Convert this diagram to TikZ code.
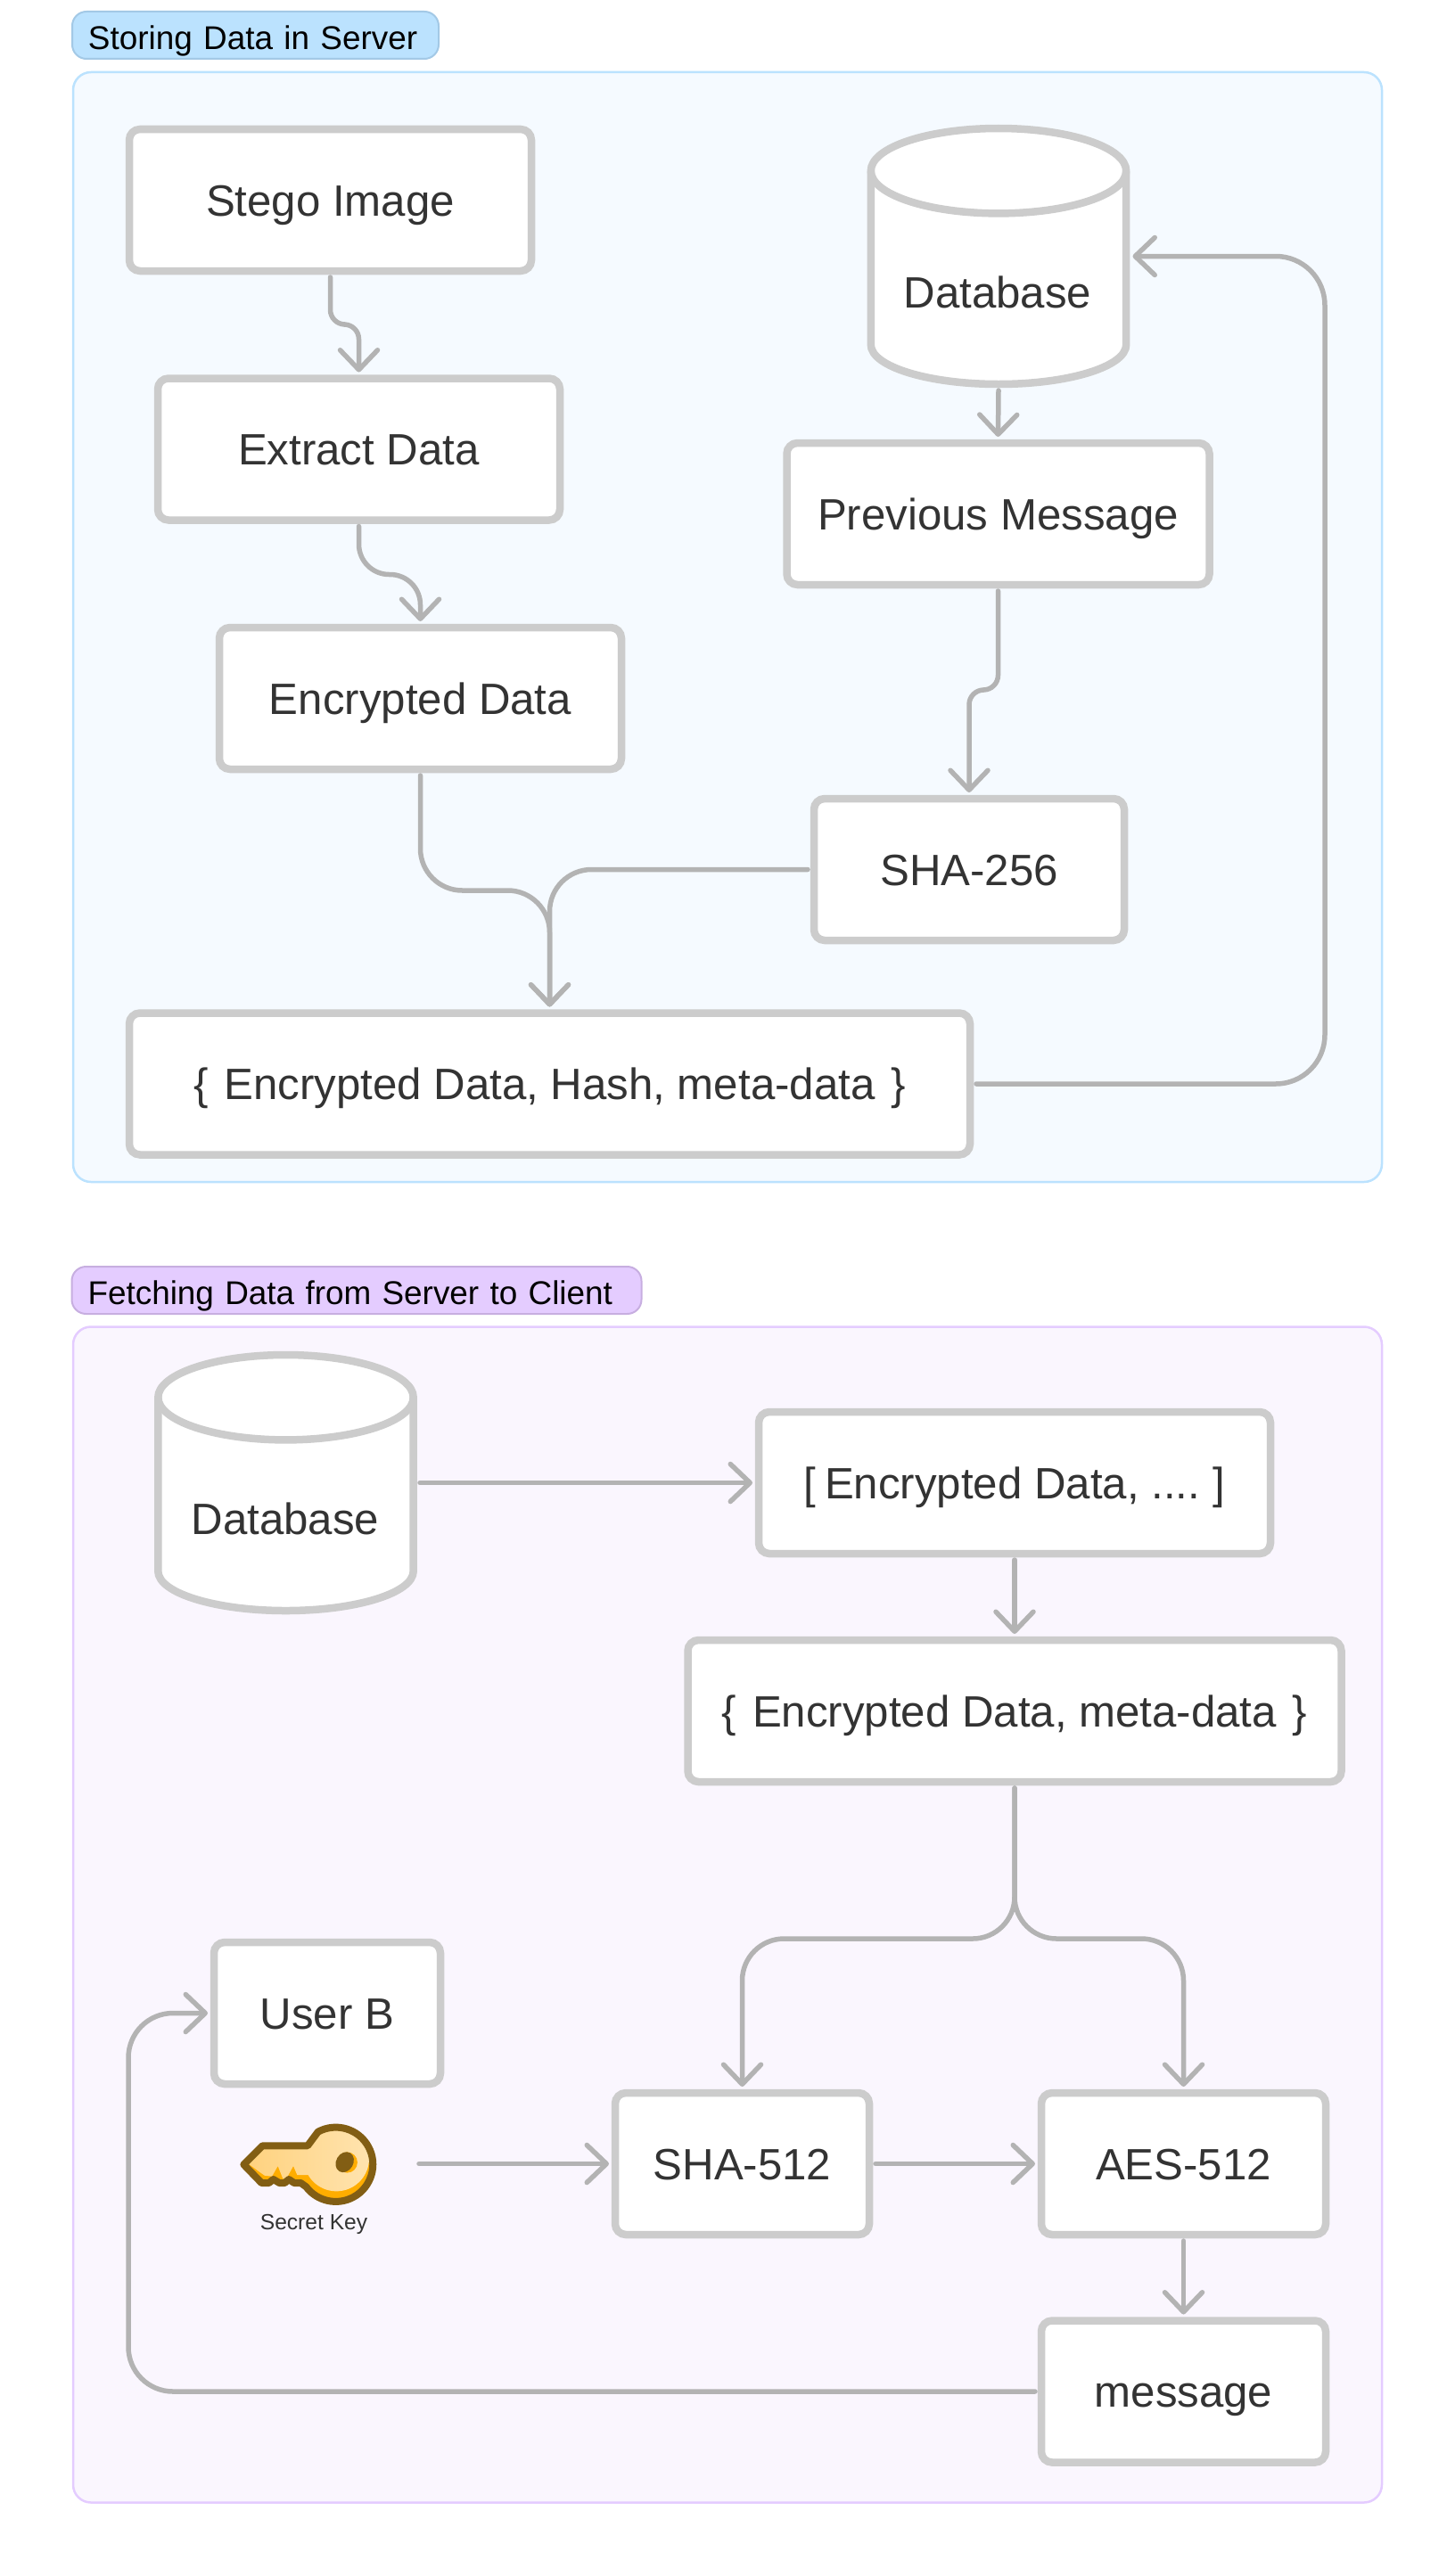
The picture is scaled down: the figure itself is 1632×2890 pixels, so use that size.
\documentclass[tikz,border=0pt]{standalone}
\usepackage{fontspec}
\setmainfont{Liberation Sans}
\usetikzlibrary{positioning, arrows.meta}
\definecolor{boxline}{HTML}{CCCCCC}
\definecolor{flowline}{HTML}{B3B3B3}
\definecolor{boxtext}{HTML}{333333}
\definecolor{bluepanel}{HTML}{F5FAFF}
\definecolor{blueline}{HTML}{BBE2FE}
\definecolor{bluetag}{HTML}{BBE2FE}
\definecolor{bluetagline}{HTML}{A3C9E6}
\definecolor{violetpanel}{HTML}{FAF6FE}
\definecolor{violetline}{HTML}{E4CCFF}
\definecolor{violettag}{HTML}{E4CCFF}
\definecolor{violettagline}{HTML}{C7AEE0}
\definecolor{keybrown}{HTML}{825E14}
\definecolor{keyorange}{HTML}{FFAD00}
\definecolor{keylow}{HTML}{FFD27E}
\definecolor{keyhigh}{HTML}{FFE3AE}

\begin{document}
\begin{tikzpicture}[x=.5pt,y=-.5pt,
  panel/.style={draw, line width=1.25pt, rounded corners=10pt, minimum width=734pt},
  tag/.style={draw, line width=1pt, rounded corners=8pt, font=\fontsize{18.45pt}{22pt}\selectfont, text=black, minimum height=26.5pt, inner sep=0pt, text height=16.35pt, text depth=0pt, align=left},
  box/.style={draw=boxline, fill=white, line width=4.25pt, rounded corners=6pt, minimum height=79.5pt, inner sep=0pt, outer sep=3.5pt, font=\fontsize{24.6pt}{28pt}\selectfont, text=boxtext, text height=17.6pt, text depth=0pt},
  db/.style={minimum width=143.5pt, minimum height=143.5pt, inner sep=0pt, outer sep=3.5pt},
  dbtext/.style={font=\fontsize{24.6pt}{28pt}\selectfont, text=boxtext, inner sep=0pt, text height=17.6pt, text depth=0pt},
  dbcyl/.pic={
    \filldraw[draw=boxline, fill=white, line width=4.25pt] (-143.2,-95.8) arc[start angle=180,end angle=0,x radius=71.6pt,y radius=23.85pt] -- (143.2,99.2) arc[start angle=0,end angle=-180,x radius=71.6pt,y radius=22.15pt] -- cycle;
    \draw[boxline, line width=4.25pt] (-143.2,-95.8) arc[start angle=180,end angle=360,x radius=71.6pt,y radius=23.85pt];
  },
  flow/.style={draw=flowline, line width=2.75pt, line cap=round, -{Straight Barb[length=11pt,width=21pt,round]}}]
  \useasboundingbox (0,0) rectangle (1632,2890);

  % storing
  \node[panel, draw=blueline, fill=bluepanel, minimum height=622.5pt] (panelA) at (816,703.5) {};
  \node[tag, draw=bluetagline, fill=bluetag, text width=205.5pt] (tagA) at (286.5,39.5) {\hspace{9pt}Storing Data in Server};

  \node[box, minimum width=225.5pt] (stego) at (370.5,224.5) {Stego Image};
  \node[box, minimum width=225.5pt] (extract) at (402.5,504) {Extract Data};
  \node[box, minimum width=225.5pt] (encrypted) at (471.5,783.5) {Encrypted Data};
  \pic at (1120,287.5) {dbcyl};
  \node[db] (dbA) at (1120,287.5) {};
  \node[dbtext] (dbAtext) at (1119,328) {Database};
  \node[box, minimum width=237pt] (previous) at (1119.5,576.5) {Previous Message};
  \node[box, minimum width=174pt] (shaA) at (1087,975.5) {SHA-256};
  \node[box, minimum width=471.5pt] (bundle) at (616.5,1216) {\{\hspace{2pt} Encrypted Data, Hash, meta-data \hspace{2pt}\}};
  \coordinate (loopA) at (1486,287.5);

  \draw[flow, rounded corners=8.25pt] (stego.south) -- ++(0,53) -| (extract.north);
  \draw[flow, rounded corners=17pt] (extract.south) -- ++(0,54) -| (encrypted.north);
  \draw[flow, rounded corners=23.5pt] (encrypted.south) -- ++(0,129) -| (bundle.north);
  \draw[flow, rounded corners=23.5pt] (shaA.west) -| (bundle.north);
  \draw[flow] (dbA.south) -- (previous.north);
  \draw[flow, rounded corners=8.25pt] (previous.south) -- ++(0,111) -| (shaA.north);
  \draw[flow, rounded corners=27.5pt] (bundle.east) -| (loopA) -- (dbA.east);

  % fetching
  \node[panel, draw=violetline, fill=violetpanel, minimum height=659.5pt] (panelB) at (816,2148) {};
  \node[tag, draw=violettagline, fill=violettag, text width=319.5pt] (tagB) at (400,1447.5) {\hspace{9pt}Fetching Data from Server to Client};

  \pic at (320.5,1663.5) {dbcyl};
  \node[db] (dbB) at (320.5,1663.5) {};
  \node[dbtext] (dbBtext) at (320,1704) {Database};
  \node[box, minimum width=287pt] (list) at (1138,1663.5) {[\hspace{-2pt} Encrypted Data, .... \hspace{-2pt}]};
  \node[box, minimum width=366.5pt] (meta) at (1138,1919.5) {\{\hspace{2pt} Encrypted Data, meta-data \hspace{2pt}\}};
  \node[box, minimum width=142.5pt] (shaB) at (832.5,2427.5) {SHA-512};
  \node[box, minimum width=159.5pt] (aes) at (1327.5,2427.5) {AES-512};
  \node[box, minimum width=159.5pt] (message) at (1327.5,2683) {message};
  \node[box, minimum width=127pt] (userb) at (367,2258.5) {User B};
  \node[font=\fontsize{12.3pt}{14pt}\selectfont, text=boxtext, inner sep=0pt] (keylabel) at (352,2495.5) {Secret Key};
  \coordinate (keyend) at (470,2427.5);
  \coordinate (loopB) at (144,2470);

  \begin{scope}[shift={(260,2375)},x=.16667pt,y=-.16667pt,line join=round]
    \def\keyoutline{(40,160) -- (103,97) -- (255,97) -- (290,50) arc[start angle=118.6,end angle=-143.1,radius=20.83pt] -- (232,222) -- (210,222) -- (192,210) -- (178,222) -- (160,222) -- (140,210) -- (125,222) -- (100,222) -- cycle}
    \begin{scope}
      \clip \keyoutline;
      \fill[keyorange] (0,0) rectangle (510,315);
      \shade[left color=keylow, right color=keyhigh]
        (45,150) -- (110,197) -- (135,200) -- (155,165) -- (172,208) -- (185,205) -- (207,165) -- (220,195) -- (270,195) -- (270,90) -- (105,90) -- cycle
        (352,140) circle[radius=18.33pt];
    \end{scope}
    \draw[keybrown, line width=4pt] \keyoutline;
    \fill[keyorange] (388,153) circle[radius=5.8pt];
    \fill[keybrown, rotate around={-30:(380,152)}] (380,152) ellipse[x radius=4.8pt, y radius=6pt];
  \end{scope}

  \draw[flow] (dbB.east) -- (list.west);
  \draw[flow] (list.south) -- (meta.north);
  \draw[flow, rounded corners=23.5pt] (meta.south) -- ++(0,169) -| (shaB.north);
  \draw[flow, rounded corners=23.5pt] (meta.south) -- ++(0,169) -| (aes.north);
  \draw[flow] (keyend) -- (shaB.west);
  \draw[flow] (shaB.east) -- (aes.west);
  \draw[flow] (aes.south) -- (message.north);
  \draw[flow, rounded corners=25pt] (message.west) -| (loopB) |- (userb.west);
\end{tikzpicture}
\end{document}
